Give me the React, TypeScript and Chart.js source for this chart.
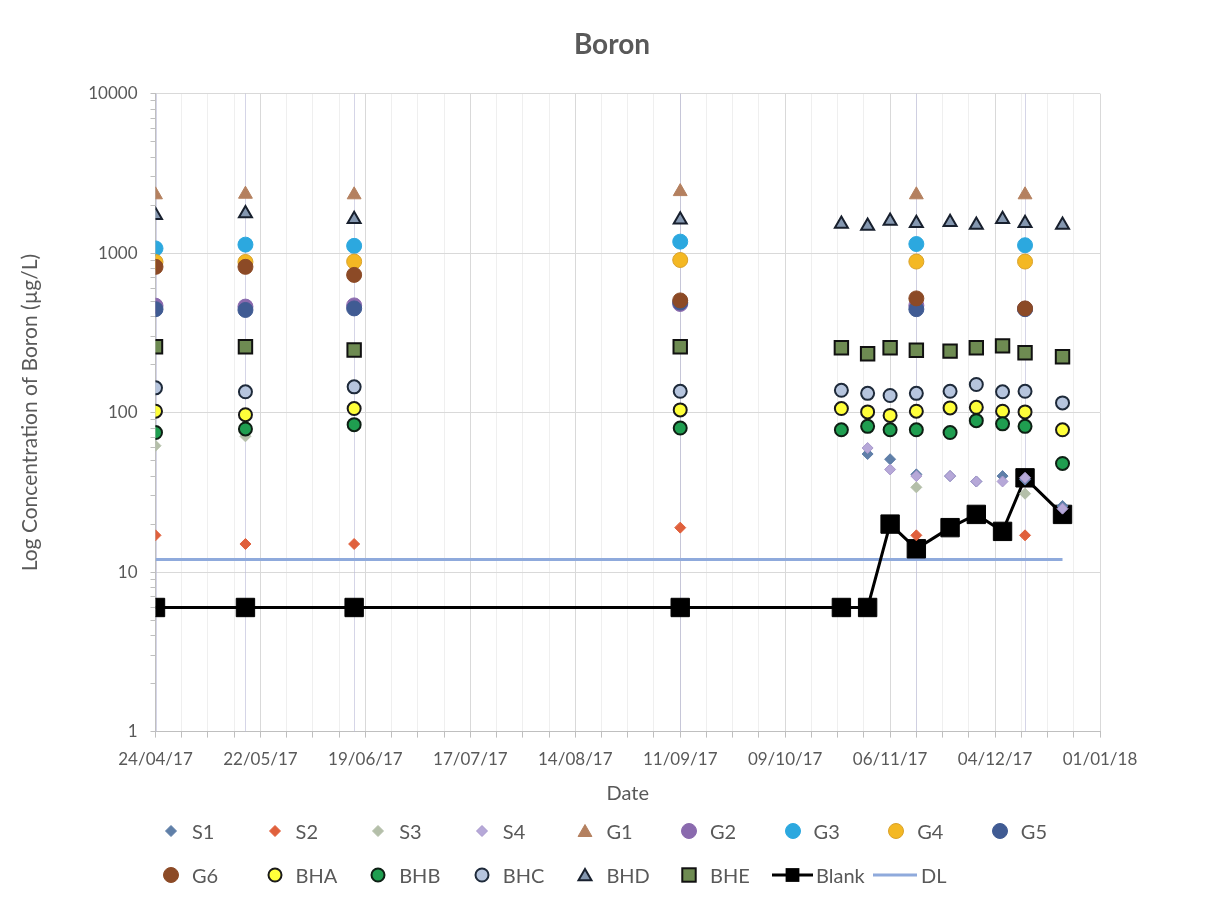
import React, { useEffect, useRef } from 'react';
import { Chart, registerables } from 'chart.js';
Chart.register(...registerables);

// ---------- data ----------
const BASE_DATE = '24/04/17';
const X_TICK_LABELS = ['24/04/17', '22/05/17', '19/06/17', '17/07/17', '14/08/17', '11/09/17', '09/10/17', '06/11/17', '04/12/17', '01/01/18'];
const Y_TICK_LABELS = ['1', '10', '100', '1000', '10000'];
const Y_MINOR_STEPS = [2, 3, 4, 5, 6, 7, 8, 9];

const SAMPLE_DATES = ['24/04/17', '18/05/17', '16/06/17', '11/09/17', '24/10/17', '31/10/17', '06/11/17', '13/11/17', '22/11/17', '29/11/17', '06/12/17', '12/12/17', '22/12/17'];
const G_DATES = ['24/04/17', '18/05/17', '16/06/17', '11/09/17', '13/11/17', '12/12/17'];
const DL_DATES = ['24/04/17', '22/12/17'];

const S1 = [null, null, null, null, null, 55, 51, 41, 40, 37, 40, 38, 26];
const S2 = [17, 15, 15, 19, null, null, null, 17, null, null, null, 17, null];
const S3 = [62, 71, 82, null, null, null, null, 34, null, null, null, 31, null];
const S4 = [null, null, null, null, null, 60, 44, 40, 40, 37, 37, 39, 25];

const G1 = [2320, 2340, 2320, 2430, 2320, 2320];
const G2 = [468, 462, 470, 480, 470, 448];
const G3 = [1070, 1130, 1110, 1180, 1140, 1120];
const G4 = [880, 880, 885, 905, 885, 885];
const G5 = [445, 440, 450, 490, 445, 445];
const G6 = [820, 820, 730, 505, 520, 450];

const BHA = [102, 97, 106, 104, 106, 101, 96, 102, 107, 108, 102, 101, 78];
const BHB = [75, 79, 84, 80, 78, 82, 78, 78, 75, 89, 85, 82, 48];
const BHC = [143, 135, 145, 136, 138, 132, 128, 132, 136, 150, 135, 136, 115];
const BHD = [1730, 1770, 1630, 1620, 1520, 1480, 1590, 1540, 1560, 1500, 1630, 1540, 1500];
const BHE = [259, 259, 247, 259, 255, 234, 255, 246, 243, 255, 262, 237, 224];
const BLANK = [6, 6, 6, 6, 6, 6, 20, 14, 19, 23, 18, 39, 23];
const DL = [12, 12];

// ---------- helpers ----------
const parseDate = (s: string) => {
  const [d, m, y] = s.split('/').map(Number);
  return Date.UTC(2000 + y, m - 1, d);
};
const toDay = (s: string) => Math.round((parseDate(s) - parseDate(BASE_DATE)) / 86400000);
const pts = (dates: string[], vals: (number | null)[]) =>
  dates.map((d, i) => ({ x: toDay(d), y: vals[i] })).filter((p) => p.y != null);

const X_MAJOR_DAYS = X_TICK_LABELS.map(toDay);
const Y_MAJOR = Y_TICK_LABELS.map(Number);
const Y_TICKS: number[] = [];
Y_MAJOR.forEach((v, i) => {
  Y_TICKS.push(v);
  if (i < Y_MAJOR.length - 1) Y_MINOR_STEPS.forEach((k) => Y_TICKS.push(v * k));
});

const FONT = 'Lato, "Open Sans", sans-serif';
const TEXT = '#595959';

type Style = {
  label: string;
  pointStyle: string;
  radius: number;
  bg: string;
  border: string;
  bw: number;
  line?: boolean;
  lineWidth?: number;
};

const STY: Record<string, Style> = {
  S1: { label: 'S1', pointStyle: 'rectRot', radius: 5.5, bg: '#5f7fa8', border: '#5f7fa8', bw: 1 },
  S2: { label: 'S2', pointStyle: 'rectRot', radius: 5.5, bg: '#e0603c', border: '#e0603c', bw: 1 },
  S3: { label: 'S3', pointStyle: 'rectRot', radius: 5.5, bg: '#b4bfa9', border: '#b4bfa9', bw: 1 },
  S4: { label: 'S4', pointStyle: 'rectRot', radius: 5.5, bg: '#b6a8d8', border: '#a898cc', bw: 1 },
  G1: { label: 'G1', pointStyle: 'triangle', radius: 8, bg: '#b4805f', border: '#b4805f', bw: 1 },
  G2: { label: 'G2', pointStyle: 'circle', radius: 7.5, bg: '#8a6aae', border: '#8a6aae', bw: 1 },
  G3: { label: 'G3', pointStyle: 'circle', radius: 7.5, bg: '#2ca8df', border: '#2ca8df', bw: 1 },
  G4: { label: 'G4', pointStyle: 'circle', radius: 7.5, bg: '#f4b823', border: '#d9a12a', bw: 1 },
  G5: { label: 'G5', pointStyle: 'circle', radius: 7.5, bg: '#405b93', border: '#405b93', bw: 1 },
  G6: { label: 'G6', pointStyle: 'circle', radius: 7.5, bg: '#8c4a26', border: '#8c4a26', bw: 1 },
  BHA: { label: 'BHA', pointStyle: 'circle', radius: 6.5, bg: '#ffff3a', border: '#1a1a1a', bw: 2 },
  BHB: { label: 'BHB', pointStyle: 'circle', radius: 6.5, bg: '#1f9e50', border: '#0e1f14', bw: 2 },
  BHC: { label: 'BHC', pointStyle: 'circle', radius: 6.5, bg: '#b6c5de', border: '#1e2a3a', bw: 2 },
  BHD: { label: 'BHD', pointStyle: 'triangle', radius: 7.5, bg: '#8497b0', border: '#18202e', bw: 2 },
  BHE: { label: 'BHE', pointStyle: 'rect', radius: 9.5, bg: '#6e8b52', border: '#111111', bw: 2 },
  Blank: { label: 'Blank', pointStyle: 'rect', radius: 13, bg: '#000000', border: '#000000', bw: 1, line: true, lineWidth: 3 },
  DL: { label: 'DL', pointStyle: 'line', radius: 0, bg: '#8faadc', border: '#8faadc', bw: 0, line: true, lineWidth: 3 },
};

const SERIES: { key: string; data: { x: number; y: number | null }[] }[] = [
  { key: 'DL', data: pts(DL_DATES, DL) },
  { key: 'Blank', data: pts(SAMPLE_DATES, BLANK) },
  { key: 'S1', data: pts(SAMPLE_DATES, S1) },
  { key: 'S2', data: pts(SAMPLE_DATES, S2) },
  { key: 'S3', data: pts(SAMPLE_DATES, S3) },
  { key: 'S4', data: pts(SAMPLE_DATES, S4) },
  { key: 'G1', data: pts(G_DATES, G1) },
  { key: 'G2', data: pts(G_DATES, G2) },
  { key: 'G3', data: pts(G_DATES, G3) },
  { key: 'G4', data: pts(G_DATES, G4) },
  { key: 'G5', data: pts(G_DATES, G5) },
  { key: 'G6', data: pts(G_DATES, G6) },
  { key: 'BHA', data: pts(SAMPLE_DATES, BHA) },
  { key: 'BHB', data: pts(SAMPLE_DATES, BHB) },
  { key: 'BHC', data: pts(SAMPLE_DATES, BHC) },
  { key: 'BHD', data: pts(SAMPLE_DATES, BHD) },
  { key: 'BHE', data: pts(SAMPLE_DATES, BHE) },
];

const LEGEND_ROW1 = ['S1', 'S2', 'S3', 'S4', 'G1', 'G2', 'G3', 'G4', 'G5'];
const LEGEND_ROW2 = ['G6', 'BHA', 'BHB', 'BHC', 'BHD', 'BHE'];

const sampleLines = {
  id: 'sampleLines',
  beforeDatasetsDraw(chart: any) {
    const { ctx, chartArea, scales } = chart;
    ctx.save();
    ctx.strokeStyle = 'rgba(185,185,215,0.6)';
    ctx.lineWidth = 1;
    G_DATES.forEach((d) => {
      const px = Math.round(scales.x.getPixelForValue(toDay(d))) + 0.5;
      ctx.beginPath();
      ctx.moveTo(px, chartArea.top);
      ctx.lineTo(px, chartArea.bottom);
      ctx.stroke();
    });
    ctx.restore();
  },
};

function Marker({ s }: { s: Style }) {
  const w = 24, h = 22, cx = 12, cy = 11;
  let shape: any = null;
  if (s.pointStyle === 'circle') shape = <circle cx={cx} cy={cy} r={s.radius} fill={s.bg} stroke={s.border} strokeWidth={s.bw} />;
  if (s.pointStyle === 'rectRot') {
    const r = s.radius;
    shape = <polygon points={`${cx},${cy - r} ${cx + r},${cy} ${cx},${cy + r} ${cx - r},${cy}`} fill={s.bg} stroke={s.border} strokeWidth={s.bw} />;
  }
  if (s.pointStyle === 'triangle') {
    const r = s.radius;
    const p = [0, 1, 2].map((k) => {
      const a = (k * 2 * Math.PI) / 3;
      return `${cx + Math.sin(a) * r},${cy + 1.5 - Math.cos(a) * r}`;
    });
    shape = <polygon points={p.join(' ')} fill={s.bg} stroke={s.border} strokeWidth={s.bw} />;
  }
  if (s.pointStyle === 'rect') {
    const a = s.radius * Math.SQRT1_2;
    shape = <rect x={cx - a} y={cy - a} width={2 * a} height={2 * a} fill={s.bg} stroke={s.border} strokeWidth={s.bw} />;
  }
  return <svg width={w} height={h} style={{ display: 'block' }}>{shape}</svg>;
}

function LineMarker({ s, width }: { s: Style; width: number }) {
  const h = 22, cy = 11;
  const a = s.radius * Math.SQRT1_2;
  return (
    <svg width={width} height={h} style={{ display: 'block' }}>
      <line x1={0} y1={cy} x2={width} y2={cy} stroke={s.border} strokeWidth={s.lineWidth} />
      {s.radius > 0 && <rect x={width / 2 - a * 0.75} y={cy - a * 0.75} width={a * 1.5} height={a * 1.5} fill={s.bg} />}
    </svg>
  );
}

function Legend() {
  const step = 103.6;
  const x0 = 171;
  const txt: React.CSSProperties = { fontFamily: FONT, fontSize: 20, color: TEXT, lineHeight: '22px', whiteSpace: 'nowrap' };
  const item = (key: string, i: number, top: number) => (
    <div key={key} style={{ position: 'absolute', left: x0 + i * step - 12, top, display: 'flex', alignItems: 'center' }}>
      <Marker s={STY[key]} />
      <span style={{ ...txt, marginLeft: 9 }}>{STY[key].label}</span>
    </div>
  );
  return (
    <div style={{ position: 'absolute', left: 0, top: 0, width: 1206, height: 899, pointerEvents: 'none' }}>
      {LEGEND_ROW1.map((k, i) => item(k, i, 820))}
      {LEGEND_ROW2.map((k, i) => item(k, i, 864))}
      <div style={{ position: 'absolute', left: 772, top: 864, display: 'flex', alignItems: 'center' }}>
        <LineMarker s={STY.Blank} width={41} />
        <span style={{ ...txt, marginLeft: 3 }}>{STY.Blank.label}</span>
      </div>
      <div style={{ position: 'absolute', left: 873, top: 864, display: 'flex', alignItems: 'center' }}>
        <LineMarker s={STY.DL} width={44} />
        <span style={{ ...txt, marginLeft: 4 }}>{STY.DL.label}</span>
      </div>
    </div>
  );
}

export default function App() {
  const ref = useRef<HTMLCanvasElement | null>(null);
  useEffect(() => {
    document.body.style.margin = '0';
    const canvas = ref.current;
    if (!canvas) return;
    const datasets = SERIES.map((s, i) => {
      const st = STY[s.key];
      return {
        label: st.label,
        data: s.data,
        order: -i,
        showLine: !!st.line,
        borderColor: st.border,
        borderWidth: st.line ? st.lineWidth : st.bw,
        backgroundColor: st.bg,
        pointStyle: st.pointStyle,
        pointRadius: st.radius,
        pointHoverRadius: st.radius,
        pointBackgroundColor: st.bg,
        pointBorderColor: st.border,
        pointBorderWidth: st.bw,
        tension: 0,
      };
    });
    const chart = new Chart(canvas, {
      type: 'scatter',
      data: { datasets: datasets as any },
      plugins: [sampleLines],
      options: {
        animation: false,
        responsive: false,
        devicePixelRatio: 1,
        layout: { padding: { left: 18, right: 0, top: 0, bottom: 93 } },
        plugins: {
          legend: { display: false },
          tooltip: { enabled: false },
          title: {
            display: true,
            text: 'Boron',
            color: TEXT,
            font: { family: FONT, size: 28, weight: 'bold' },
            padding: { top: 28, bottom: 32 },
          },
        },
        scales: {
          x: {
            type: 'linear',
            min: X_MAJOR_DAYS[0],
            max: X_MAJOR_DAYS[X_MAJOR_DAYS.length - 1],
            afterBuildTicks: (axis: any) => {
              const t: any[] = [];
              for (let v = X_MAJOR_DAYS[0]; v <= X_MAJOR_DAYS[X_MAJOR_DAYS.length - 1]; v += 7) t.push({ value: v });
              axis.ticks = t;
            },
            ticks: {
              autoSkip: false,
              maxRotation: 0,
              color: TEXT,
              font: { family: FONT, size: 17 },
              padding: 12,
              callback: (v: any) => {
                const i = X_MAJOR_DAYS.indexOf(Number(v));
                return i >= 0 ? X_TICK_LABELS[i] : '';
              },
            },
            grid: {
              color: (c: any) => (c.tick && X_MAJOR_DAYS.includes(c.tick.value) ? '#d9d9d9' : '#efefef'),
              tickColor: '#bfbfbf',
              tickLength: 6,
            },
            border: { color: '#bfbfbf' },
            title: { display: true, text: 'Date', color: TEXT, font: { family: FONT, size: 20 }, padding: { top: 0, bottom: 0 } },
          },
          y: {
            type: 'logarithmic',
            min: Y_MAJOR[0],
            max: Y_MAJOR[Y_MAJOR.length - 1],
            afterBuildTicks: (axis: any) => {
              axis.ticks = Y_TICKS.map((v) => ({ value: v }));
            },
            ticks: {
              autoSkip: false,
              color: TEXT,
              font: { family: FONT, size: 17 },
              padding: 13,
              callback: (v: any) => (Y_MAJOR.includes(Number(v)) ? String(v) : ''),
            },
            grid: {
              color: (c: any) => (c.tick && Y_MAJOR.includes(c.tick.value) ? '#d9d9d9' : 'rgba(0,0,0,0)'),
              tickColor: '#bfbfbf',
              tickLength: 5,
            },
            border: { color: '#bfbfbf' },
            title: {
              display: true,
              text: 'Log Concentration of Boron (µg/L)',
              color: TEXT,
              font: { family: FONT, size: 21 },
              padding: { top: 0, bottom: 32 },
            },
          },
          spacer: {
            type: 'linear',
            position: 'right',
            display: true,
            grid: { display: false, drawTicks: false },
            border: { display: false },
            ticks: { display: false },
            afterFit: (axis: any) => {
              axis.width = 106;
            },
          },
        },
      },
    });
    return () => chart.destroy();
  }, []);
  return (
    <div style={{ position: 'relative', width: 1206, height: 899, background: '#fff' }}>
      <canvas ref={ref} width={1206} height={899} style={{ position: 'absolute', left: 0, top: 0 }} />
      <Legend />
    </div>
  );
}
